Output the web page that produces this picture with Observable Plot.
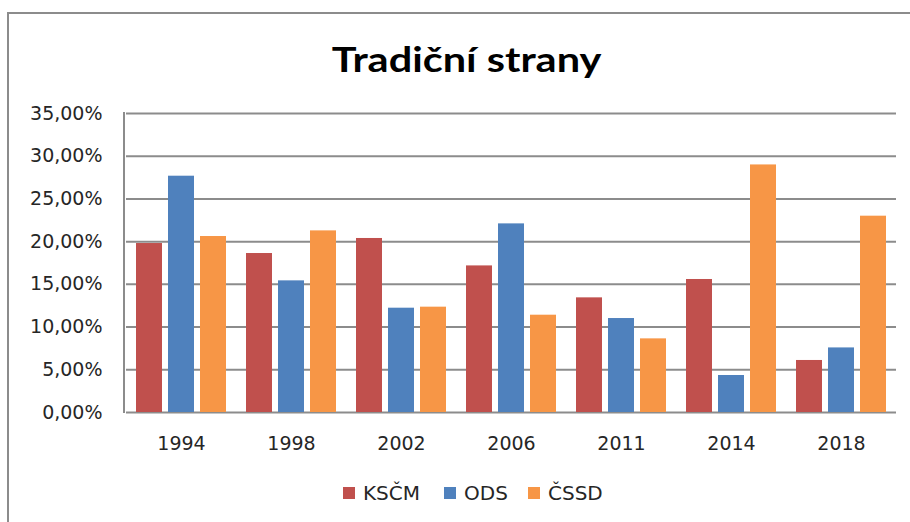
<!DOCTYPE html>
<html>
<head>
<meta charset="utf-8">
<script src="https://cdn.jsdelivr.net/npm/d3@7"></script>
<script src="https://cdn.jsdelivr.net/npm/@observablehq/plot@0.6"></script>
<style>
  html, body { margin: 0; padding: 0; background: #fff; overflow: hidden; }
  body { width: 910px; height: 522px; position: relative; font-family: "DejaVu Sans", sans-serif; color: #262626; }
  #frame { position: absolute; left: 7px; top: 12px; width: 910px; height: 520px; border-top: 2px solid #8c8c8c; border-left: 2px solid #8c8c8c; box-sizing: border-box; }
  #title { position: absolute; left: 24px; top: 39px; width: 886px; text-align: center; line-height: 40px; }
  #title span { display: inline-block; font-family: Lato, sans-serif; font-weight: 700; font-size: 34px; color: #000; transform: scaleX(1.22); transform-origin: 50% 50%; }
  #chart { position: absolute; left: 0; top: 90px; }
  #legend { position: absolute; left: 0; top: 481px; width: 910px; height: 24px; }
  .item { position: absolute; top: 0; display: flex; align-items: center; height: 24px; font-size: 20px; color: #262626; }
  .sw { width: 12px; height: 12px; margin-right: 8px; }
</style>
</head>
<body>
<div id="frame"></div>
<div id="title"><span>Tradiční strany</span></div>
<div id="chart"></div>
<div id="legend"></div>
<script>
const years = ["1994", "1998", "2002", "2006", "2011", "2014", "2018"];
const parties = ["KSČM", "ODS", "ČSSD"];
const kscm = [19.78, 18.61, 20.37, 17.16, 13.42, 15.57, 6.09];
const ods  = [27.66, 15.41, 12.21, 22.08, 11.00, 4.33, 7.56];
const cssd = [20.60, 21.26, 12.33, 11.39, 8.62, 28.98, 22.98];
const colors = ["#C0504D", "#4F81BD", "#F79646"];
const yTicks = [0, 5, 10, 15, 20, 25, 30, 35];
const legendX = [343, 444, 528];

const series = [kscm, ods, cssd];
const data = [];
years.forEach((yr, i) => parties.forEach((p, j) => data.push({year: yr, party: p, value: series[j][i]})));

const marginLeft = 124;
const plot = Plot.plot({
  width: 910,
  height: 370,
  marginLeft,
  marginRight: 13,
  marginTop: 23,
  marginBottom: 48,
  style: {fontFamily: "DejaVu Sans", fontSize: "19px", color: "#262626", background: "transparent"},
  fx: {domain: years, padding: 0, label: null, axis: "bottom", tickSize: 0, tickPadding: 24},
  x: {domain: parties, paddingInner: 0.2, paddingOuter: 0.3, axis: null},
  y: {domain: [0, 35], ticks: yTicks, label: null, tickSize: 0, tickPadding: 24,
      tickFormat: d => d.toFixed(2).replace(".", ",") + "%"},
  color: {domain: parties, range: colors},
  marks: [
    Plot.gridY(yTicks, {stroke: "#8c8c8c", strokeOpacity: 1, strokeWidth: 2}),
    Plot.barY(data, {fx: "year", x: "party", y: "value", fill: "party", inset: 0})
  ]
});
document.getElementById("chart").appendChild(plot);

// left axis line along the y scale
const ys = plot.scale("y");
const ns = "http://www.w3.org/2000/svg";
const ln = document.createElementNS(ns, "line");
ln.setAttribute("x1", marginLeft); ln.setAttribute("x2", marginLeft);
ln.setAttribute("y1", ys.apply(0) + 1); ln.setAttribute("y2", ys.apply(35) - 1);
ln.setAttribute("stroke", "#8c8c8c"); ln.setAttribute("stroke-width", 2);
plot.appendChild(ln);

const leg = document.getElementById("legend");
parties.forEach((p, i) => {
  const it = document.createElement("div");
  it.className = "item";
  it.style.left = legendX[i] + "px";
  const sw = document.createElement("span");
  sw.className = "sw";
  sw.style.background = colors[i];
  it.appendChild(sw);
  it.appendChild(document.createTextNode(p));
  leg.appendChild(it);
});
</script>
</body>
</html>
